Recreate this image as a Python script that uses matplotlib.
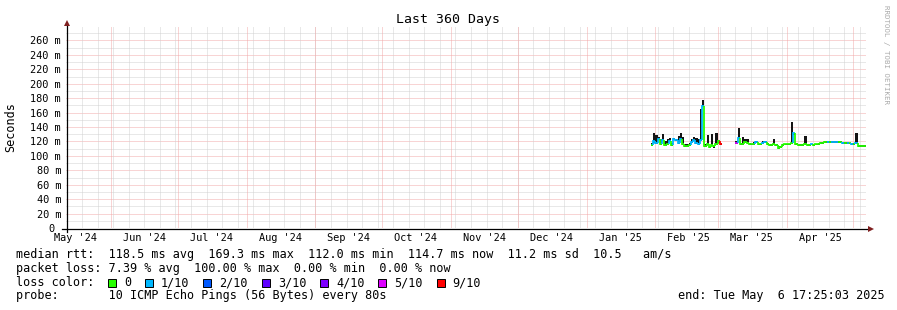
import numpy as np
import pandas as pd
import matplotlib
matplotlib.use('Agg')
import matplotlib.pyplot as plt
import matplotlib.dates as mdates
from matplotlib.patches import Rectangle
from datetime import datetime, timedelta

plt.rcParams['font.family'] = 'DejaVu Sans Mono'

# time range of the graph
end = datetime(2025, 5, 6, 17, 25, 3)
start = end - timedelta(days=360)

# daily values, Jan 30 2025 .. May 6 2025 (nan = no data)
days = pd.date_range('2025-01-30', '2025-05-06', freq='D')
nan = np.nan
median_ms = [115, 120, 118, 123, 116, 122, 115, 117, 121, 115,
             123, 122, 118, 124, 116, 114, 114, 115, 119, 122,
             118, 116, 122, 169, 114, 116, 112, 115, 113, 117,
             120, 116, nan, nan, nan, nan, nan, nan, 118, 125,
             116, 117, 119, 118, 116, 116, 117, 119, 116, 116,
             118, 119, 116, 115, 115, 117, 115, 111, 112, 115,
             116, 116, 116, 118, 131, 116, 115, 115, 115, 117,
             115, 115, 116, 115, 116, 117, 118, 118.5, 119, 119.5,
             119.5, 119.5, 119.5, 119, 119, 119, 118.5, 118, 118, 117.5,
             117, 117, 118, 114, 114, 114, 114]
smoke_top_ms = [118, 131, 129, 126, 124, 130, 120, 124, 125, 118,
                125, 124, 128, 132, 126, 116, 116, 118, 124, 126,
                125, 124, 165, 177, 116, 129, 114, 130, 115, 131,
                122, 118, nan, nan, nan, nan, nan, nan, 120, 138,
                118, 126, 124, 124, 118, 117, 119, 121, 117, 117,
                120, 120, 118, 116, 117, 123, 117, 113, 114, 116,
                117, 117, 117, 147, 132, 118, 116, 116, 116, 127,
                116, 116, 117, 116, 117, 118, 119, 119.5, 120, 120.5,
                120.5, 120.5, 120.5, 120, 120, 120, 119.5, 119, 119, 118.5,
                118, 118, 132, 115, 115, 115, 115]
loss_class = [0, 1, 1, 1, 0, 1, 0, 0, 1, 0,
              1, 1, 1, 1, 0, 0, 0, 0, 1, 1,
              1, 1, 1, 1, 0, 0, 0, 0, 0, 0,
              0, 6, 0, 0, 0, 0, 0, 0, 5, 1,
              0, 0, 0, 0, 0, 0, 0, 1, 0, 0,
              1, 1, 0, 0, 0, 0, 0, 0, 0, 0,
              0, 0, 0, 0, 1, 0, 0, 0, 0, 0,
              0, 0, 1, 0, 0, 0, 0, 0, 0, 1,
              0, 1, 1, 1, 0, 0, 1, 0, 1, 0,
              1, 0, 1, 0, 0, 0, 0]

loss_labels = ['0', '1/10', '2/10', '3/10', '4/10', '5/10', '9/10']
loss_colors = ['#26ff00', '#00b8ff', '#0059ff', '#5e00ff', '#7e00ff', '#dd00ff', '#ff0000']

y_ticks = [0, 20, 40, 60, 80, 100, 120, 140, 160, 180, 200, 220, 240, 260]
y_labels = ['0 ', '20 m', '40 m', '60 m', '80 m', '100 m', '120 m', '140 m',
            '160 m', '180 m', '200 m', '220 m', '240 m', '260 m']

legend_lines = [
    "median rtt:  118.5 ms avg  169.3 ms max  112.0 ms min  114.7 ms now  11.2 ms sd  10.5   am/s",
    "packet loss: 7.39 % avg  100.00 % max  0.00 % min  0.00 % now",
    "loss color:",
    "probe:       10 ICMP Echo Pings (56 Bytes) every 80s",
]
end_text = "end: Tue May  6 17:25:03 2025"

W, H = 897, 310
fig = plt.figure(figsize=(W / 100, H / 100), dpi=100)
fig.patch.set_facecolor('white')
ax = fig.add_axes([66 / W, (H - 228) / H, 800 / W, 202 / H])

x0, x1 = mdates.date2num(start), mdates.date2num(end)
ax.set_xlim(x0, x1)
ax.set_ylim(0, 280)
for s in ax.spines.values():
    s.set_visible(False)

grid_grey = '#d2d2d2'
grid_red = '#f2aaaa'
gkw = dict(lw=0.72, dashes=(1, 1), zorder=1)

# horizontal grid
for v in range(10, 280, 20):
    ax.axhline(v, color=grid_grey, **gkw)
for v in y_ticks[1:]:
    ax.axhline(v, color=grid_red, **gkw)

# vertical grid: weeks (sundays) and months
sundays = pd.date_range(start.date(), end, freq='W-SUN')
for d in sundays:
    ax.axvline(mdates.date2num(d), color=grid_grey, **gkw)
month_starts = pd.date_range('2024-06-01', end, freq='MS')
for d in month_starts:
    ax.axvline(mdates.date2num(d), color=grid_red, **gkw)

# month labels centred in the month
month_labels = pd.date_range('2024-05-01', '2025-04-01', freq='MS')
ax.set_xticks([mdates.date2num(d + pd.Timedelta(days=15)) for d in month_labels])
ax.set_xticklabels([d.strftime("%b '%y") for d in month_labels])
ax.set_yticks(y_ticks)
ax.set_yticklabels(y_labels)
ax.tick_params(axis='both', length=0, labelsize=7.4)
ax.tick_params(axis='y', pad=3.6)
ax.tick_params(axis='x', pad=3.6)

xs = mdates.date2num(days.to_pydatetime())
med = np.array(median_ms, dtype=float)
top = np.array(smoke_top_ms, dtype=float)

# smoke
ok = ~np.isnan(med)
ax.bar(xs[ok], top[ok] - med[ok] + 1.5, bottom=med[ok] - 1.5, width=1.0, align='edge',
       color='#151515', linewidth=0, zorder=3)

# median line coloured by loss
for i in range(len(xs)):
    if np.isnan(med[i]):
        continue
    prev = med[i - 1] if i > 0 and not np.isnan(med[i - 1]) else med[i]
    ax.plot([xs[i], xs[i], xs[i] + 1], [prev, med[i], med[i]],
            color=loss_colors[loss_class[i]], lw=1.3, zorder=4,
            solid_capstyle='butt', solid_joinstyle='miter')

# overlay in pixel coordinates for axes, arrows and legend
ov = fig.add_axes([0, 0, 1, 1])
ov.set_xlim(0, W)
ov.set_ylim(H, 0)
ov.axis('off')

ov.plot([62, 869], [228.5, 228.5], color='black', lw=0.9)
ov.plot([66.5, 66.5], [232, 25], color='black', lw=0.9)
ov.plot([871], [228.5], marker='>', color='#7f1f1f', ms=4.5, mew=0)
ov.plot([66.5], [23], marker='^', color='#7f1f1f', ms=4.5, mew=0)

ov.text(448, 19, 'Last 360 Days', ha='center', va='center', fontsize=9.5)
ov.text(11, 127, 'Seconds', ha='center', va='center', rotation=90, fontsize=8.5)
ov.text(886, 5, 'RRDTOOL / TOBI OETIKER', ha='center', va='top', rotation=270,
        fontsize=5.3, color='#aaaaaa')

ys = [254.5, 268.5, 282.5, 296]
for y, line in zip(ys, legend_lines):
    ov.text(16, y, line, ha='left', va='center', fontsize=8.5)
ov.text(678, 296, end_text, ha='left', va='center', fontsize=8.5)

cw = 7.08
x = 108
for lab, col in zip(loss_labels, loss_colors):
    ov.add_patch(Rectangle((x, 279), 8, 8, facecolor=col, edgecolor='black', lw=0.7))
    ov.text(x + 16, 282.5, lab, ha='left', va='center', fontsize=8.5)
    x += 16 + len(lab) * cw + 14

fig.savefig('out.png', dpi=100, facecolor='white')
